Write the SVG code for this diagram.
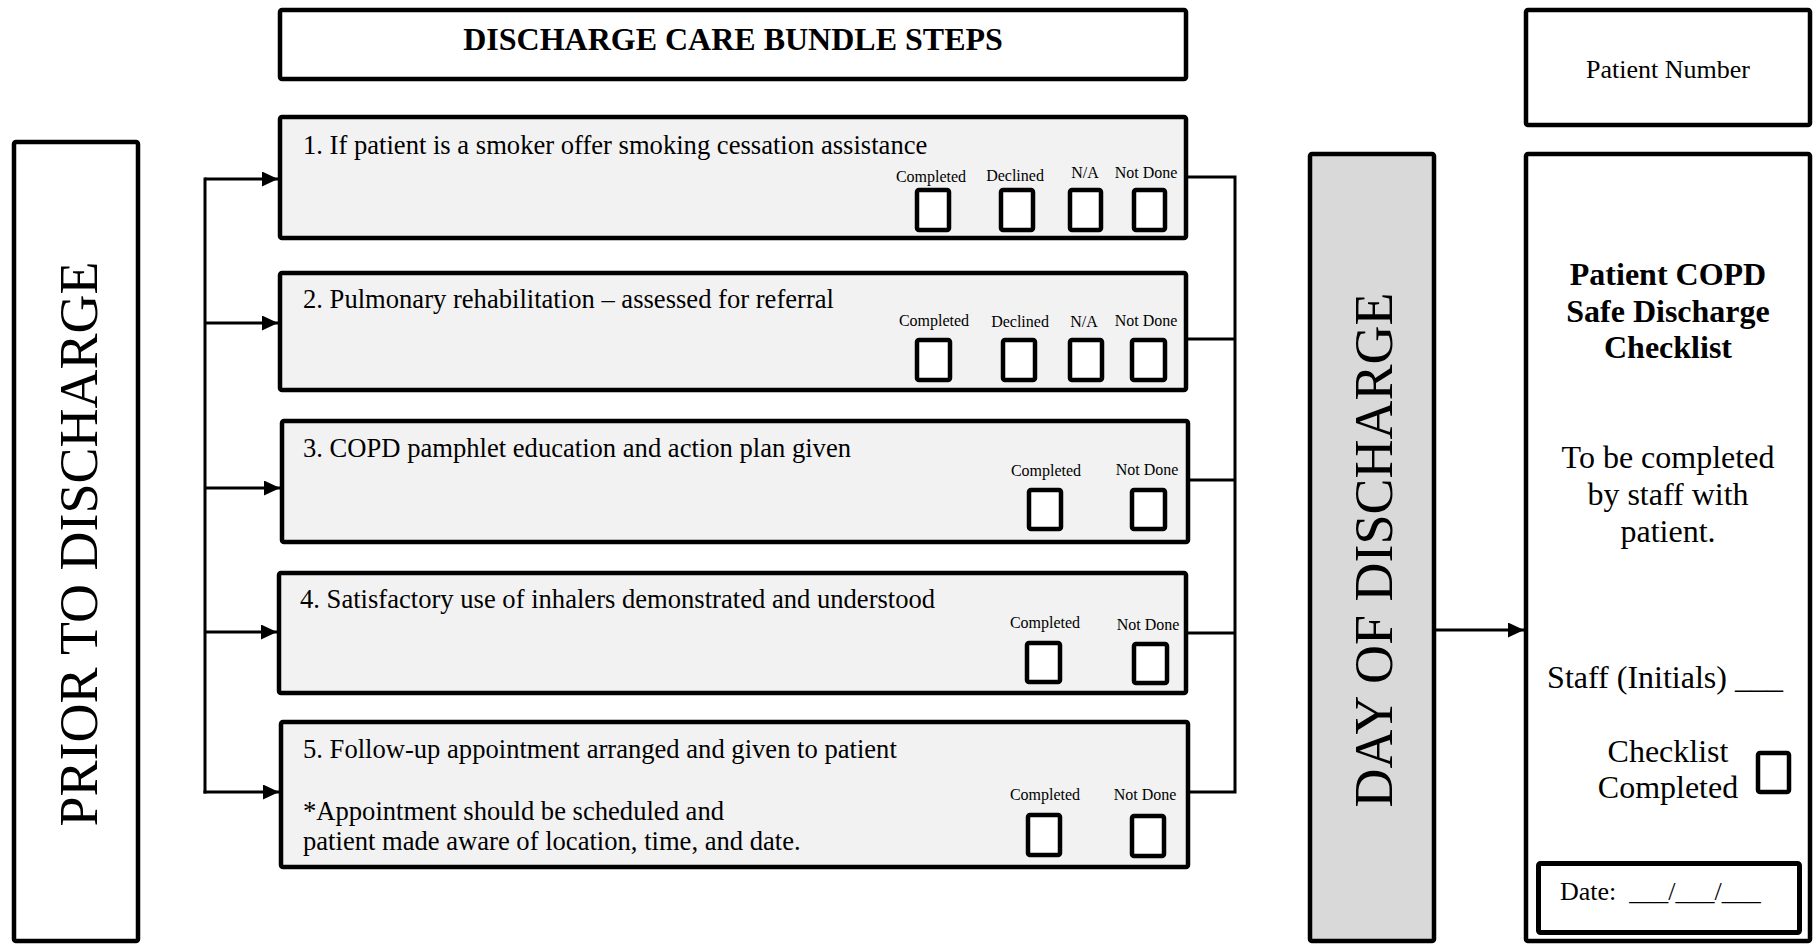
<svg xmlns="http://www.w3.org/2000/svg" width="1816" height="945" viewBox="0 0 1816 945">
<style>
.box{fill:#fff;stroke:#000;stroke-width:4.5}
.step{fill:#f2f2f2;stroke:#000;stroke-width:4.5}
.day{fill:#d9d9d9;stroke:#000;stroke-width:4.5}
.cb{fill:#fff;stroke:#000;stroke-width:4.5}
.t{font-family:"Liberation Serif","Times New Roman",serif;fill:#000}
.st{font-size:26.6px}
.lb{font-size:16px;text-anchor:middle}
.big{font-size:54px;text-anchor:middle}
.c32{font-size:32px;text-anchor:middle}
.b{font-weight:bold}
.ln{fill:none;stroke:#000;stroke-width:3}
.ln4{fill:none;stroke:#000;stroke-width:4}
</style>
<defs>
<marker id="ah" markerUnits="userSpaceOnUse" markerWidth="16" markerHeight="15" refX="16" refY="7.5" orient="auto"><path d="M0,0 L16,7.5 L0,15 z" fill="#000"/></marker>
<filter id="sh" x="-20%" y="-200%" width="140%" height="500%"><feDropShadow dx="2" dy="3" stdDeviation="2" flood-color="#000" flood-opacity="0.35"/></filter>
</defs>

<g id="header"><rect class="box" x="280" y="10" width="906" height="69" rx="2"/><text class="t b c32" x="733" y="50">DISCHARGE CARE BUNDLE STEPS</text></g>

<g id="patient-number"><rect class="box" x="1526" y="10" width="284" height="115" rx="2"/><text class="t" x="1668" y="78" font-size="26" text-anchor="middle">Patient Number</text></g>

<g id="prior"><rect class="box" x="14" y="142" width="124" height="799" rx="2"/><text class="t big" transform="translate(97,544) rotate(-90)">PRIOR TO DISCHARGE</text></g>

<g id="step1"><rect class="step" x="280" y="117" width="906" height="121" rx="2"/>
<text class="t st" x="303" y="154">1. If patient is a smoker offer smoking cessation assistance</text>
<text class="t lb" x="931" y="182">Completed</text><text class="t lb" x="1015" y="181">Declined</text><text class="t lb" x="1085" y="178">N/A</text><text class="t lb" x="1146" y="178">Not Done</text>
<rect class="cb" x="917" y="190" width="32" height="40" rx="2"/><rect class="cb" x="1001" y="190" width="32" height="40" rx="2"/><rect class="cb" x="1070" y="190" width="31" height="40" rx="2"/><rect class="cb" x="1134" y="190" width="31" height="40" rx="2"/></g>

<g id="step2"><rect class="step" x="280" y="273" width="906" height="117" rx="2"/>
<text class="t st" x="303" y="308">2. Pulmonary rehabilitation – assessed for referral</text>
<text class="t lb" x="934" y="326">Completed</text><text class="t lb" x="1020" y="327">Declined</text><text class="t lb" x="1084" y="327">N/A</text><text class="t lb" x="1146" y="326">Not Done</text>
<rect class="cb" x="917" y="340" width="33" height="40" rx="2"/><rect class="cb" x="1003" y="340" width="32" height="40" rx="2"/><rect class="cb" x="1070" y="340" width="32" height="40" rx="2"/><rect class="cb" x="1132" y="340" width="33" height="40" rx="2"/></g>

<g id="step3"><rect class="step" x="282" y="421" width="906" height="121" rx="2"/>
<text class="t st" x="303" y="457">3. COPD pamphlet education and action plan given</text>
<text class="t lb" x="1046" y="476">Completed</text><text class="t lb" x="1147" y="475">Not Done</text>
<rect class="cb" x="1029" y="490" width="32" height="39" rx="2"/><rect class="cb" x="1132" y="490" width="33" height="39" rx="2"/></g>

<g id="step4"><rect class="step" x="279" y="573" width="907" height="120" rx="2"/>
<text class="t st" x="300" y="608">4. Satisfactory use of inhalers demonstrated and understood</text>
<text class="t lb" x="1045" y="628">Completed</text><text class="t lb" x="1148" y="630">Not Done</text>
<rect class="cb" x="1027" y="643" width="33" height="39" rx="2"/><rect class="cb" x="1134" y="644" width="33" height="39" rx="2"/></g>

<g id="step5"><rect class="step" x="281" y="722" width="907" height="145" rx="2"/>
<text class="t st" x="303" y="758">5. Follow-up appointment arranged and given to patient</text>
<text class="t st" x="303" y="820">*Appointment should be scheduled and</text>
<text class="t st" x="303" y="850">patient made aware of location, time, and date.</text>
<text class="t lb" x="1045" y="800">Completed</text><text class="t lb" x="1145" y="800">Not Done</text>
<rect class="cb" x="1028" y="815" width="32" height="40" rx="2"/><rect class="cb" x="1132" y="816" width="32" height="40" rx="2"/></g>

<g id="day"><rect class="day" x="1310" y="154" width="124" height="787" rx="2"/><text class="t big" transform="translate(1392,550) rotate(-90)">DAY OF DISCHARGE</text></g>

<g id="checklist"><rect class="box" x="1526" y="154" width="284" height="787" rx="2"/>
<text class="t b c32" x="1668" y="285">Patient COPD</text>
<text class="t b c32" x="1668" y="322">Safe Discharge</text>
<text class="t b c32" x="1668" y="358">Checklist</text>
<text class="t c32" x="1668" y="468">To be completed</text>
<text class="t c32" x="1668" y="505">by staff with</text>
<text class="t c32" x="1668" y="542">patient.</text>
<text class="t c32" x="1665" y="688">Staff (Initials) ___</text>
<text class="t c32" x="1668" y="762">Checklist</text>
<text class="t c32" x="1668" y="798">Completed</text>
<rect class="cb" x="1758" y="753" width="31" height="39" rx="2"/>
<rect class="box" x="1538.5" y="863.5" width="261" height="69" rx="2" style="stroke-width:5"/>
<text class="t" x="1560" y="900" font-size="26" xml:space="preserve">Date:  ___/___/___</text></g>

<g id="connectors">
<path class="ln4" d="M140,542 H205" marker-end="url(#ah)" filter="url(#sh)"/>
<path class="ln" d="M205,177.5 V793.5"/>
<path class="ln" d="M205,179 H278" marker-end="url(#ah)"/>
<path class="ln" d="M205,323 H278" marker-end="url(#ah)"/>
<path class="ln" d="M205,488 H280" marker-end="url(#ah)"/>
<path class="ln" d="M205,632 H277" marker-end="url(#ah)"/>
<path class="ln" d="M203.5,792 H279" marker-end="url(#ah)"/>
<path class="ln" d="M1188,177 H1235 V792 H1190"/>
<path class="ln" d="M1188,339 H1235"/>
<path class="ln" d="M1190,480 H1235"/>
<path class="ln" d="M1188,633 H1235"/>
<path class="ln4" d="M1235,518 H1308" marker-end="url(#ah)" filter="url(#sh)"/>
<path class="ln" d="M1436,630 H1524" marker-end="url(#ah)"/>
</g>
</svg>
